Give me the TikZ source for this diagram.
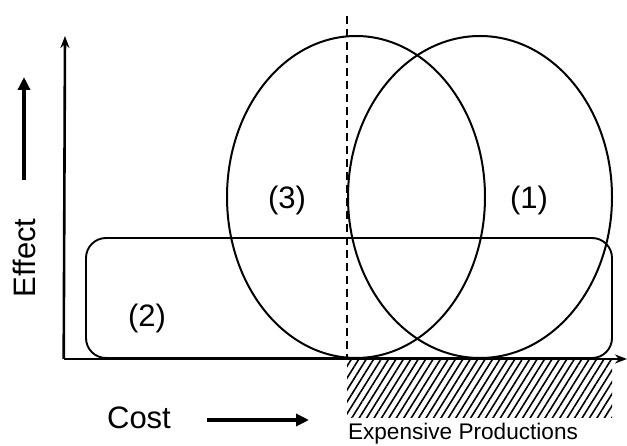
\documentclass[tikz,border=0pt]{standalone}
\usepackage{fontspec}
\setmainfont{Liberation Sans}
\usetikzlibrary{shapes.geometric,arrows.meta,patterns.meta}
\begin{document}
\begin{tikzpicture}[x=1pt,y=-1pt,
  axis/.style={line width=2.6pt,-{Stealth[length=12pt,width=9pt]}},
  bigarrow/.style={line width=4pt,-{Triangle[length=13pt,width=12pt]}},
  oval/.style={ellipse,draw,line width=2pt,inner sep=0pt},
  lbl/.style={font=\fontsize{31}{33}\selectfont,inner sep=0pt},
  small/.style={font=\fontsize{22.6}{24}\selectfont,inner sep=0pt}]
\useasboundingbox (0,0) rectangle (627,446);
% hatched region
\fill[pattern={Lines[angle=58,distance=6.3pt,line width=1.6pt]}] (347,359) rectangle (612,418);
% rounded rectangle
\node[draw,line width=1.9pt,rounded corners=20pt,minimum width=526pt,minimum height=120pt,inner sep=0pt] (r2) at (349,298) {};
% ellipses
\node[oval,minimum width=258pt,minimum height=322pt] (e3) at (356,197) {};
\node[oval,minimum width=264pt,minimum height=322pt] (e1) at (480,197) {};
% axes
\coordinate (o) at (65,359);
\coordinate (ytop) at (65,36);
\coordinate (xend) at (627,359);
\draw[axis] ([xshift=-1.3pt]o) -- (ytop);
\draw[axis] ([xshift=-1.3pt]o) -- (xend);
% dashed line
\coordinate (dtop) at (347,16);
\coordinate (dbot) at (347,358);
\draw[line width=1.6pt,dash pattern=on 8pt off 5pt] (dtop) -- (dbot);
% labels
\node[lbl] (l3) at (287,200) {(3)};
\node[lbl] (l1) at (529,200) {(1)};
\node[lbl] (l2) at (147,318) {(2)};
\node[lbl,rotate=90] (eff) at (24,258) {Effect};
\node[lbl] (cost) at (139,418) {Cost};
\node[small] (exp) at (463,434) {Expensive Productions};
% arrows
\coordinate (ea0) at (24,180);
\coordinate (ea1) at (24,77);
\draw[bigarrow] (ea0) -- (ea1);
\coordinate (ca0) at (207,420);
\coordinate (ca1) at (309,420);
\draw[bigarrow] (ca0) -- (ca1);
\end{tikzpicture}
\end{document}
